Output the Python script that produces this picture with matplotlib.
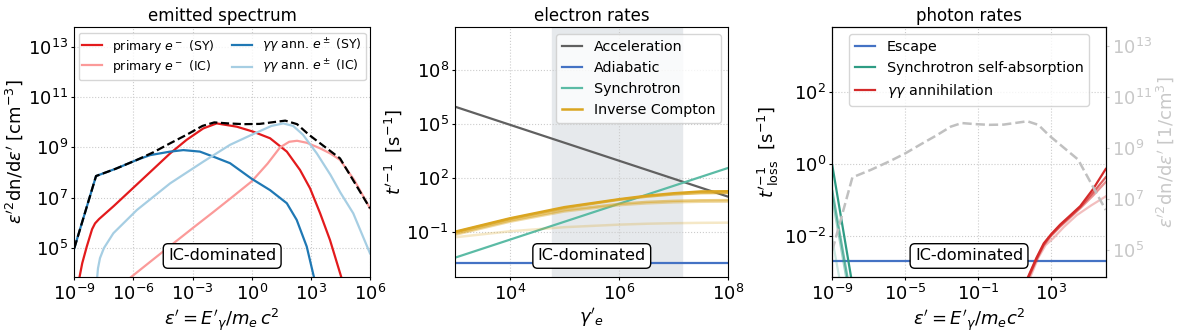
import numpy as np
import matplotlib
matplotlib.use("Agg")
import matplotlib.pyplot as plt
from matplotlib.ticker import NullLocator

plt.rcParams['font.family'] = ['DejaVu Sans']
plt.rcParams['xtick.labelsize'] = 13
plt.rcParams['ytick.labelsize'] = 13
plt.rcParams['axes.labelsize'] = 13
plt.rcParams['axes.titlesize'] = 12
plt.rcParams['xtick.major.size'] = 2.5
plt.rcParams['ytick.major.size'] = 2.5
plt.rcParams['xtick.major.pad'] = 2
plt.rcParams['ytick.major.pad'] = 2
plt.rcParams['axes.labelpad'] = 2

# ---- emitted spectrum (log10 eps, log10 eps^2 dn/deps) ----
tot_x = [-9.0, -7.9, -6.9, -5.83, -5.0, -4.14, -3.3, -2.5, -1.9, -1.2, -0.4, 0.4, 1.1, 1.7, 2.3, 2.9, 3.47, 4.48, 6.0]
tot_y = [5.0, 7.86, 8.15, 8.5, 8.8, 9.16, 9.5, 9.85, 9.99, 9.95, 9.92, 9.93, 10.0, 10.06, 9.92, 9.5, 9.16, 8.56, 6.58]

sy_x = [-8.8, -8.6, -8.37, -8.1, -7.95, -7.75, -7.0, -6.0, -5.0, -4.14, -3.3, -2.46, -1.78, -0.76, 0.08, 0.93, 1.78, 2.45, 2.96, 3.47, 3.97, 4.6]
sy_y = [3.6, 4.4, 5.06, 5.75, 5.98, 6.15, 6.67, 7.4, 8.13, 8.76, 9.3, 9.75, 9.95, 9.82, 9.62, 9.36, 8.83, 8.1, 7.37, 6.38, 5.32, 3.7]

ic_x = [-6.2, -5.0, -4.0, -3.0, -2.0, -1.0, 0.0, 0.8, 1.44, 1.9, 2.3, 2.8, 3.47, 4.0, 4.48, 5.2, 6.0]
ic_y = [3.8, 4.55, 5.17, 5.79, 6.4, 7.02, 7.65, 8.35, 9.0, 9.22, 9.26, 9.18, 8.96, 8.75, 8.5, 7.7, 6.58]

gsy_x = [-9.0, -7.9, -6.9, -5.83, -5.16, -4.14, -3.47, -2.63, -1.95, -1.1, 0.0, 0.93, 1.78, 2.28, 2.79, 3.2]
gsy_y = [5.0, 7.86, 8.15, 8.5, 8.69, 8.83, 8.89, 8.83, 8.63, 8.37, 7.75, 7.3, 6.78, 6.12, 5.06, 3.7]

gic_x = [-7.86, -7.8, -7.7, -7.5, -7.02, -5.83, -4.14, -2.46, -1.1, 0.0, 1.0, 1.6, 2.1, 2.6, 3.3, 4.0, 4.5, 5.15, 6.0]
gic_y = [3.7, 4.2, 4.6, 5.0, 5.59, 6.51, 7.57, 8.43, 9.1, 9.5, 9.85, 9.95, 9.85, 9.5, 8.76, 7.9, 7.2, 6.38, 4.79]

# ---- electron rates ----
gamma_ends = [1e3, 1e8]
acc_rate = [9.1e5, 9.3]
sync_rate = [3.9e-3, 3.7e2]
adiab_rate = [2.05e-3, 2.05e-3]
ic_gamma = [3.0, 4.0, 5.0, 6.0, 6.5, 7.0, 7.5, 8.0]
ic_rates = [
    [-0.97, -0.23, 0.39, 0.83, 1.02, 1.16, 1.26, 1.27],
    [-1.0, -0.27, 0.34, 0.80, 0.97, 1.1, 1.17, 1.18],
    [-1.08, -0.36, 0.22, 0.57, 0.68, 0.74, 0.77, 0.78],
    [-1.14, -0.42, 0.15, 0.5, 0.6, 0.66, 0.69, 0.7],
    [-1.28, -0.95, -0.72, -0.58, -0.53, -0.5, -0.48, -0.47],
]
ic_alpha = [1.0, 0.75, 0.55, 0.4, 0.25]
shade_gamma = [5.9e4, 1.45e7]

# ---- photon rates ----
eps_ends = [1e-9, 1e6]
escape_rate = [2.05e-3, 2.05e-3]
ssa_x = [[-9.0, -7.95], [-9.0, -8.15], [-9.0, -8.22], [-9.0, -8.6]]
ssa_y = [[-0.05, -3.2], [-0.75, -3.2], [-0.95, -3.2], [-2.1, -3.2]]
ssa_alpha = [1.0, 0.7, 0.45, 0.25]
gg_x = [
    [1.72, 2.2, 2.6, 3.0, 3.5, 4.0, 4.6, 5.3, 6.0],
    [1.75, 2.2, 2.6, 3.0, 3.5, 4.0, 4.6, 5.3, 6.0],
    [1.78, 2.2, 2.6, 3.0, 3.5, 4.0, 4.6, 5.3, 6.0],
    [1.85, 2.3, 2.7, 3.12, 3.7, 4.41, 5.2, 6.0],
]
gg_y = [
    [-3.15, -2.6, -2.2, -1.95, -1.68, -1.45, -1.17, -0.7, -0.14],
    [-3.15, -2.63, -2.23, -1.97, -1.71, -1.48, -1.2, -0.8, -0.37],
    [-3.15, -2.66, -2.26, -2.0, -1.74, -1.51, -1.23, -0.88, -0.5],
    [-3.15, -2.6, -2.25, -2.06, -1.75, -1.42, -1.15, -0.9],
]
gg_alpha = [1.0, 0.75, 0.5, 0.3]

red, pink, blue, lblue = '#e31a1c', '#fb9a99', '#1f78b4', '#a6cee3'
esc_blue = '#4472c4'
teal2 = '#5bbba5'
teal3 = '#2e9c84'
gold = '#daa520'
ggred = '#d42a2a'

box = dict(boxstyle='round,pad=0.3', fc='white', ec='black')


def lg(v):
    return 10 ** np.array(v)


fig = plt.figure(figsize=(11.84, 3.32), dpi=100)
ax1 = fig.add_axes([0.0628, 0.1648, 0.2497, 0.7548])
ax2 = fig.add_axes([0.3845, 0.1648, 0.2306, 0.7548])
ax3 = fig.add_axes([0.7030, 0.1648, 0.2309, 0.7548])

# emitted spectrum
ax1.plot(lg(sy_x), lg(sy_y), color=red, lw=1.6, label=r'primary $e^-$ (SY)')
ax1.plot(lg(ic_x), lg(ic_y), color=pink, lw=1.6, label=r'primary $e^-$ (IC)')
ax1.plot(lg(gsy_x), lg(gsy_y), color=blue, lw=1.6, label=r'$\gamma\gamma$ ann. $e^\pm$ (SY)')
ax1.plot(lg(gic_x), lg(gic_y), color=lblue, lw=1.6, label=r'$\gamma\gamma$ ann. $e^\pm$ (IC)')
ax1.plot(lg(tot_x), lg(tot_y), color='black', lw=1.6, ls='--')
ax1.set_xscale('log')
ax1.set_yscale('log')
ax1.set_xlim(1e-9, 1e6)
ax1.set_ylim(10 ** 3.84, 10 ** 13.79)
ax1.set_xticks([1e-9, 1e-6, 1e-3, 1e0, 1e3, 1e6])
ax1.set_yticks([1e5, 1e7, 1e9, 1e11, 1e13])
ax1.set_title('emitted spectrum', pad=4)
ax1.set_xlabel(r"$\varepsilon' = E'_\gamma/m_e\,c^2$")
ax1.set_ylabel(r"$\varepsilon'^2$dn/d$\varepsilon'$ [cm$^{-3}$]")
ax1.legend(loc='upper center', ncol=2, fontsize=9, labelspacing=0.25,
           borderpad=0.3, handlelength=1.6, columnspacing=1.4)

# electron rates
ax2.axvspan(shade_gamma[0], shade_gamma[1], color='#e6e9ec', zorder=0)
ax2.plot(gamma_ends, acc_rate, color='#606060', lw=1.6, label='Acceleration')
ax2.plot(gamma_ends, adiab_rate, color=esc_blue, lw=1.6, label='Adiabatic')
ax2.plot(gamma_ends, sync_rate, color=teal2, lw=1.6, label='Synchrotron')
for r, a in zip(ic_rates, ic_alpha):
    ax2.plot(lg(ic_gamma), lg(r), color=gold, lw=1.8, alpha=a,
             label='Inverse Compton' if a == 1.0 else None)
ax2.set_xscale('log')
ax2.set_yscale('log')
ax2.set_xlim(1e3, 1e8)
ax2.set_ylim(10 ** -3.5, 10 ** 10.4)
ax2.set_xticks([1e4, 1e6, 1e8])
ax2.set_yticks([1e-1, 1e2, 1e5, 1e8])
ax2.set_title('electron rates', pad=4)
ax2.set_xlabel(r"$\gamma'_e$")
ax2.set_ylabel(r"$t'^{-1}$  [s$^{-1}$]")
ax2.legend(loc='upper right', fontsize=10.3, handlelength=1.45)

# photon rates
ax3.plot(eps_ends, escape_rate, color=esc_blue, lw=1.6, label='Escape')
for xs, ys, a in zip(ssa_x, ssa_y, ssa_alpha):
    ax3.plot(lg(xs), lg(ys), color=teal3, lw=1.6, alpha=a,
             label='Synchrotron self-absorption' if a == 1.0 else None)
for xs, ys, a in zip(gg_x, gg_y, gg_alpha):
    ax3.plot(lg(xs), lg(ys), color=ggred, lw=1.6, alpha=a,
             label=r'$\gamma\gamma$ annihilation' if a == 1.0 else None)
ax3.set_xscale('log')
ax3.set_yscale('log')
ax3.set_xlim(1e-9, 1e6)
ax3.set_ylim(10 ** -3.14, 10 ** 3.8)
ax3.set_xticks([1e-9, 1e-5, 1e-1, 1e3])
ax3.set_yticks([1e-2, 1e0, 1e2])
ax3.set_title('photon rates', pad=4)
ax3.set_xlabel(r"$\varepsilon' = E'_\gamma/m_ec^2$")
ax3.set_ylabel(r"$t'^{-1}_\mathrm{loss}$  [s$^{-1}$]")
ax3.legend(loc='upper center', fontsize=10.3, handlelength=1.45)

ax3b = ax3.twinx()
ax3b.plot(lg(tot_x), lg(tot_y), color='#c0c0c0', lw=1.8, ls='--')
ax3b.set_yscale('log')
ax3b.set_ylim(10 ** 3.94, 10 ** 13.77)
ax3b.set_yticks([1e5, 1e7, 1e9, 1e11, 1e13])
ax3b.yaxis.set_minor_locator(NullLocator())
ax3b.tick_params(axis='y', colors='#c8c8c8')
ax3b.set_ylabel(r"$\varepsilon'^2$dn/d$\varepsilon'$ [1/cm$^3$]", color='#c8c8c8')

for ax in (ax1, ax2, ax3):
    ax.xaxis.set_minor_locator(NullLocator())
    ax.yaxis.set_minor_locator(NullLocator())
    ax.grid(True, ls=':', color='#cccccc', lw=0.8)
    ax.set_axisbelow(True)
    ax.text(0.5, 0.085, 'IC-dominated', transform=ax.transAxes, ha='center',
            va='center', fontsize=11.5, bbox=box, zorder=5)

fig.savefig('out.png', dpi=100)
